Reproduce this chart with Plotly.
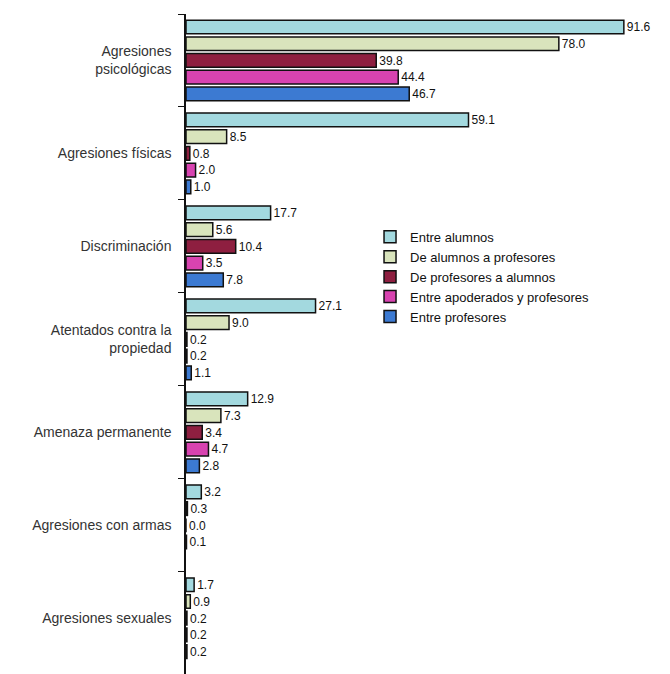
import plotly.graph_objects as go

categories = [
    "Agresiones<br>psicológicas",
    "Agresiones físicas",
    "Discriminación",
    "Atentados contra la<br>propiedad",
    "Amenaza permanente",
    "Agresiones con armas",
    "Agresiones sexuales",
]
series_names = [
    "Entre alumnos",
    "De alumnos a profesores",
    "De profesores a alumnos",
    "Entre apoderados y profesores",
    "Entre profesores",
]
entre_alumnos = [91.6, 59.1, 17.7, 27.1, 12.9, 3.2, 1.7]
alumnos_a_profesores = [78.0, 8.5, 5.6, 9.0, 7.3, 0.3, 0.9]
profesores_a_alumnos = [39.8, 0.8, 10.4, 0.2, 3.4, 0.0, 0.2]
apoderados_y_profesores = [44.4, 2.0, 3.5, 0.2, 4.7, 0.1, 0.2]
entre_profesores = [46.7, 1.0, 7.8, 1.1, 2.8, None, 0.2]

series_values = [entre_alumnos, alumnos_a_profesores, profesores_a_alumnos,
                 apoderados_y_profesores, entre_profesores]
colors = ["#a3d9df", "#d9e4bc", "#8e1f40", "#d843b0", "#3c7ad2"]

font_main = "Liberation Sans, Arial, sans-serif"

fig = go.Figure()
for name, vals, col in zip(series_names, series_values, colors):
    fig.add_trace(go.Bar(
        y=categories, x=vals, name=name, orientation="h",
        marker=dict(color=col, line=dict(color="#111111", width=1.5)),
        text=[None if v is None else f"{v:.1f}" for v in vals],
        textposition="outside",
        textfont=dict(family=font_main, size=14, color="#111111"),
        cliponaxis=False,
    ))

fig.update_layout(
    width=662, height=666,
    margin=dict(l=178, r=6, t=6, b=0),
    paper_bgcolor="white", plot_bgcolor="white",
    barmode="group", bargap=0.1, bargroupgap=0.18,
    showlegend=True,
    legend=dict(
        x=0.385, y=0.685, xanchor="left", yanchor="top",
        font=dict(family=font_main, size=13, color="#111111"),
        bgcolor="rgba(0,0,0,0)", tracegroupgap=0, itemwidth=30,
    ),
)
fig.update_xaxes(range=[0, 100], visible=False, showgrid=False, zeroline=False)
fig.update_yaxes(
    autorange=False, range=[6.6, -0.5],
    showline=True, linecolor="#111111", linewidth=1.5,
    ticks="outside", tickson="boundaries", ticklen=6, tickcolor="#111111",
    tickfont=dict(family=font_main, size=14, color="#333333"),
    showgrid=False, ticklabelstandoff=10,
)

fig.write_html("out.html")
